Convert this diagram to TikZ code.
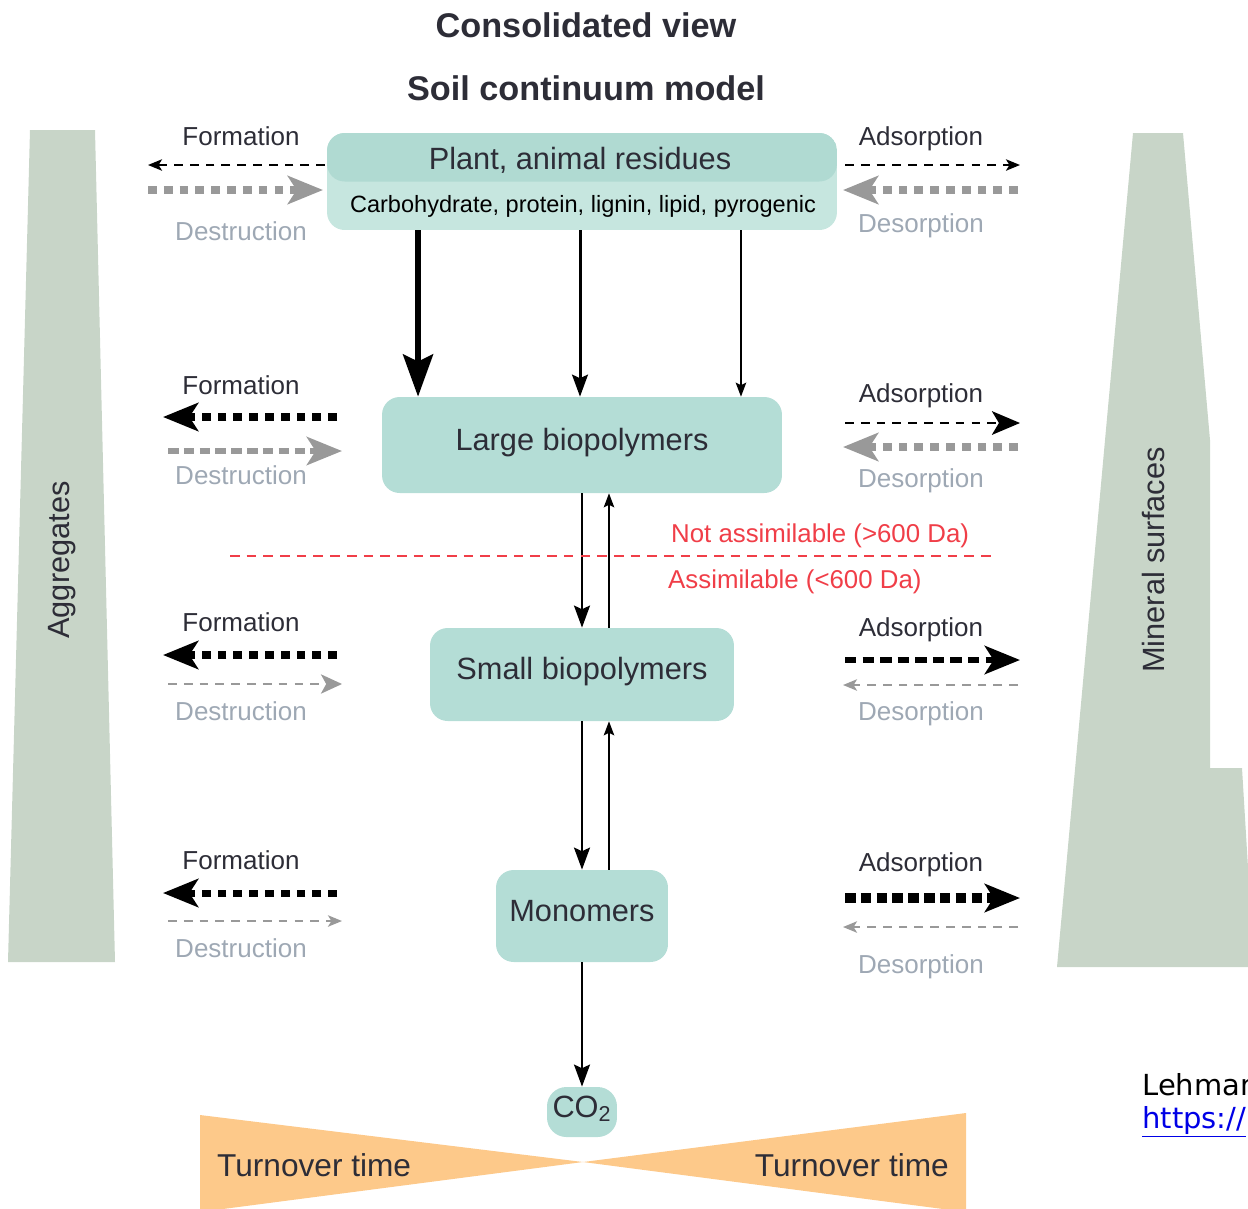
\documentclass[tikz,border=0pt]{standalone}
\usepackage{fontspec}
\setmainfont{Liberation Sans}
\newfontfamily\citefont{DejaVu Sans}
\usetikzlibrary{arrows.meta}
\definecolor{poolteal}{RGB}{180,221,214}
\definecolor{poolhigh}{RGB}{176,218,210}
\definecolor{poollow}{RGB}{198,230,223}
\definecolor{sagegray}{RGB}{200,213,200}
\definecolor{turnorange}{RGB}{253,201,138}
\definecolor{assimred}{RGB}{240,62,72}
\definecolor{fluxgray}{RGB}{153,153,153}
\definecolor{labelgray}{RGB}{158,168,180}
\definecolor{labeldark}{RGB}{45,45,55}
\definecolor{linkblue}{RGB}{0,0,230}
\tikzstyle{pool} = [fill=poolteal, rounded corners=10pt, inner sep=0pt,
                    font=\fontsize{17.5}{20}\selectfont, text=labeldark, text height=12pt, text depth=6pt]
\tikzstyle{titletext} = [font=\bfseries\fontsize{19.5}{22}\selectfont, text=labeldark]
\tikzstyle{barlabel} = [font=\fontsize{17.5}{20}\selectfont, text=labeldark]
\tikzstyle{sidelabel} = [font=\fontsize{14.8}{17}\selectfont, text=labeldark, text depth=0pt]
\tikzstyle{sidegray} = [font=\fontsize{14.8}{17}\selectfont, text=labelgray, text depth=0pt]
\tikzstyle{redlabel} = [font=\fontsize{14.7}{17}\selectfont, text=assimred, anchor=west, text depth=0pt]
\tikzstyle{turnlabel} = [font=\fontsize{18}{21}\selectfont, text=labeldark, text depth=0pt]
\tikzstyle{fluxthin} = [line width=1.1pt, dash pattern=on 5pt off 4pt]
\tikzstyle{fluxthick} = [line width=4pt, dash pattern=on 5pt off 4pt]
\tikzstyle{headbig} = [-{Stealth[length=20pt,width=16pt,inset=5pt]}]
\tikzstyle{headmid} = [-{Stealth[length=16pt,width=13.5pt,inset=4pt]}]
\tikzstyle{headsmall} = [-{Stealth[length=12pt,width=11pt,inset=3pt]}]
\tikzstyle{headtiny} = [-{Stealth[length=8pt,width=6.5pt,inset=2pt]}]
\tikzstyle{vthick} = [line width=3.4pt, -{Stealth[length=24pt,width=17pt,inset=4pt]}]
\tikzstyle{vmid} = [line width=1.7pt, -{Stealth[length=12.5pt,width=9pt,inset=2pt]}]
\tikzstyle{vthin} = [line width=0.8pt, -{Stealth[length=8pt,width=6pt,inset=1.5pt]}]

\begin{document}
\begin{tikzpicture}[x=0.02cm, y=-0.02cm]
\useasboundingbox (0,0) rectangle (1248,1208);
\clip (0,0) rectangle (1248,1208);
% aggregates and mineral surfaces
\fill[sagegray] (30,130) -- (95,130) -- (115,962) -- (8,962) -- cycle;
\node[barlabel, rotate=90] (aggr) at (62,560) {Aggregates};
\fill[sagegray] (1133,133) -- (1183,133) -- (1210,440) -- (1210,768) -- (1242,768) -- (1254,967) -- (1057,967) -- cycle;
\node[barlabel, rotate=90] (mineral) at (1153,560) {Mineral surfaces};

% turnover bowtie
\fill[turnorange] (200,1115) -- (583,1162) -- (200,1212) -- cycle;
\fill[turnorange] (966,1113) -- (583,1162) -- (966,1212) -- cycle;
\node[turnlabel, anchor=west] (turnl) at (211,1165) {Turnover time};
\node[turnlabel, anchor=east] (turnr) at (955,1165) {Turnover time};

% titles
\node[titletext] (title) at (586,25) {Consolidated view};
\node[titletext] (subtitle) at (586,88) {Soil continuum model};

% pools
\node[pool, fill=poollow, minimum width=10.2cm, minimum height=1.94cm,
      path picture={\fill[poolhigh] (path picture bounding box.north west) rectangle (path picture bounding box.east);}] (plant) at (582,181.5) {};
\node[sidelabel, font=\fontsize{17.5}{20}\selectfont] (plantname) at (580,158) {Plant, animal residues};
\node[sidelabel, font=\fontsize{13.4}{16}\selectfont, text=black] (plantkinds) at (583,204) {Carbohydrate, protein, lignin, lipid, pyrogenic};
\node[pool, minimum width=8cm, minimum height=1.92cm] (large) at (582,445) {Large biopolymers};
\node[pool, minimum width=6.08cm, minimum height=1.86cm] (small) at (582,674.5) {Small biopolymers};
\node[pool, minimum width=3.44cm, minimum height=1.84cm] (mono) at (582,916) {Monomers};
\node[pool, rounded corners=11pt, minimum width=1.4cm, minimum height=1.0cm, text height=11pt, text depth=5pt] (co2) at (582,1112) {CO\textsubscript{2}};

% fluxes between pools
\draw[vthick] ([xshift=-3.28cm]plant.south) -- ([xshift=-3.28cm]large.north);
\draw[vmid] ([xshift=-0.04cm]plant.south) -- ([xshift=-0.04cm]large.north);
\draw[vthin] ([xshift=3.18cm]plant.south) -- ([xshift=3.18cm]large.north);
\draw[vmid] (large.south) -- (small.north);
\draw[vthin] ([xshift=0.54cm]small.north) -- ([xshift=0.54cm]large.south);
\draw[vmid] (small.south) -- (mono.north);
\draw[vthin] ([xshift=0.54cm]mono.north) -- ([xshift=0.54cm]small.south);
\draw[vmid] (mono.south) -- (co2.north);

% assimilation threshold
\draw[assimred, line width=0.9pt, dash pattern=on 5.5pt off 4pt] (230,556) -- (995,556);
\node[redlabel] (notassim) at (665,533) {Not assimilable (>600 Da)};
\node[redlabel] (assim) at (662,579) {Assimilable (<600 Da)};

% formation / destruction
\node[sidelabel] (form1) at (241,136) {Formation};
\node[sidegray] (dest1) at (241,231) {Destruction};
\draw[fluxthin, headtiny] (325,165) -- (148,165);
\draw[fluxthick, headbig, fluxgray] (148,190) -- (323,190);
\node[sidelabel] (form2) at (241,385) {Formation};
\node[sidegray] (dest2) at (241,475) {Destruction};
\draw[fluxthick, headbig] (337,417) -- (163,417);
\draw[fluxthick, headbig, fluxgray, line width=3.4pt, dash pattern=on 6pt off 3pt] (168,451) -- (342,451);
\node[sidelabel] (form3) at (241,622) {Formation};
\node[sidegray] (dest3) at (241,711) {Destruction};
\draw[fluxthick, headbig] (337,655) -- (163,655);
\draw[fluxthin, headsmall, fluxgray] (168,684) -- (342,684);
\node[sidelabel] (form4) at (241,860) {Formation};
\node[sidegray] (dest4) at (241,948) {Destruction};
\draw[fluxthick, headbig] (337,893) -- (163,893);
\draw[fluxthin, headtiny, fluxgray] (168,921) -- (342,921);

% adsorption / desorption
\node[sidelabel] (ads1) at (921,136) {Adsorption};
\node[sidegray] (des1) at (921,223) {Desorption};
\draw[fluxthin, headtiny] (845,165) -- (1020,165);
\draw[fluxthick, headbig, fluxgray] (1018,190) -- (843,190);
\node[sidelabel] (ads2) at (921,393) {Adsorption};
\node[sidegray] (des2) at (921,478) {Desorption};
\draw[fluxthin, headmid] (845,423) -- (1020,423);
\draw[fluxthick, headbig, fluxgray] (1018,447) -- (843,447);
\node[sidelabel] (ads3) at (921,627) {Adsorption};
\node[sidegray] (des3) at (921,711) {Desorption};
\draw[fluxthick, headbig, line width=3.6pt, dash pattern=on 6.5pt off 3.5pt] (845,660) -- (1020,660);
\draw[fluxthin, headtiny, fluxgray] (1018,685) -- (843,685);
\node[sidelabel] (ads4) at (921,862) {Adsorption};
\node[sidegray] (des4) at (921,964) {Desorption};
\draw[fluxthick, headbig, line width=5.5pt, dash pattern=on 6pt off 3pt] (845,898) -- (1020,898);
\draw[fluxthin, headtiny, fluxgray] (1018,927) -- (843,927);

% reference
\node[anchor=west, font=\citefont\fontsize{16.5}{19}\selectfont, inner sep=0pt] (cite) at (1142,1085) {Lehmann};
\node[anchor=west, font=\citefont\fontsize{16.5}{19}\selectfont, text=linkblue, inner sep=0pt] (link) at (1142,1122) {\underline{https://}};
\end{tikzpicture}
\end{document}
